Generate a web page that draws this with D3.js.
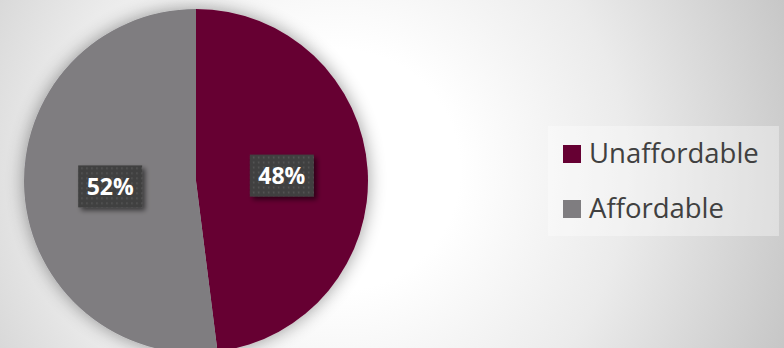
<!DOCTYPE html>
<html>
<head>
<meta charset="utf-8">
<script src="https://cdn.jsdelivr.net/npm/d3@7"></script>
<style>
  html, body { margin: 0; padding: 0; overflow: hidden; }
  svg { display: block; }
</style>
</head>
<body>
<script>
// chart data
var categories = ["Unaffordable", "Affordable"];
var values = [48, 52];
var labels = ["48%", "52%"];
var colors = ["#660033", "#7f7d80"];

var width = 784, height = 348;
var cx = 196, cy = 181, radius = 172;

var svg = d3.select("body").append("svg")
    .attr("width", width)
    .attr("height", height);

var defs = svg.append("defs");

// background radial gradient
var bg = defs.append("radialGradient")
    .attr("id", "bg")
    .attr("gradientUnits", "userSpaceOnUse")
    .attr("cx", 340).attr("cy", 170).attr("r", 480);
bg.append("stop").attr("offset", "0.25").attr("stop-color", "#ffffff");
bg.append("stop").attr("offset", "0.6").attr("stop-color", "#ebebeb");
bg.append("stop").attr("offset", "1").attr("stop-color", "#c6c6c6");

// soft shadow round the pie
var pieShadow = defs.append("filter").attr("id", "pieShadow")
    .attr("x", "-20%").attr("y", "-20%").attr("width", "140%").attr("height", "140%");
pieShadow.append("feGaussianBlur").attr("in", "SourceAlpha").attr("stdDeviation", 9).attr("result", "blur");
pieShadow.append("feComponentTransfer").attr("in", "blur").attr("result", "soft")
  .append("feFuncA").attr("type", "linear").attr("slope", 0.4);
var m1 = pieShadow.append("feMerge");
m1.append("feMergeNode").attr("in", "soft");
m1.append("feMergeNode").attr("in", "SourceGraphic");

// shadow under the label boxes
var boxShadow = defs.append("filter").attr("id", "boxShadow")
    .attr("x", "-30%").attr("y", "-30%").attr("width", "160%").attr("height", "160%");
boxShadow.append("feGaussianBlur").attr("in", "SourceAlpha").attr("stdDeviation", 2.5).attr("result", "blur");
boxShadow.append("feOffset").attr("in", "blur").attr("dx", 3).attr("dy", 3).attr("result", "off");
boxShadow.append("feComponentTransfer").attr("in", "off").attr("result", "soft")
  .append("feFuncA").attr("type", "linear").attr("slope", 0.55);
var m2 = boxShadow.append("feMerge");
m2.append("feMergeNode").attr("in", "soft");
m2.append("feMergeNode").attr("in", "SourceGraphic");

// dotted fill for label boxes
var dots = defs.append("pattern").attr("id", "dots")
    .attr("patternUnits", "userSpaceOnUse")
    .attr("width", 5).attr("height", 5);
dots.append("rect").attr("width", 5).attr("height", 5).attr("fill", "#404040");
dots.append("rect").attr("x", 1).attr("y", 1).attr("width", 1.6).attr("height", 1.6).attr("fill", "#575757");

svg.append("rect")
    .attr("width", width).attr("height", height)
    .attr("fill", "url(#bg)");

var data = categories.map(function(c, i) {
    return {name: c, value: values[i], label: labels[i], color: colors[i]};
});

var pie = d3.pie().sort(null).value(function(d) { return d.value; });
var arc = d3.arc().innerRadius(0).outerRadius(radius);
var arcs = pie(data);

var g = svg.append("g").attr("transform", "translate(" + cx + "," + cy + ")");

g.append("g").attr("filter", "url(#pieShadow)")
  .selectAll("path")
    .data(arcs)
  .enter().append("path")
    .attr("d", arc)
    .attr("fill", function(d) { return d.data.color; });

// data labels
var lab = g.selectAll(".lab")
    .data(arcs)
  .enter().append("g")
    .attr("class", "lab")
    .attr("transform", function(d) { return "translate(" + arc.centroid(d) + ")"; });

lab.append("rect")
    .attr("x", -32).attr("y", -21)
    .attr("width", 64).attr("height", 42)
    .attr("fill", "url(#dots)")
    .attr("filter", "url(#boxShadow)");

lab.append("text")
    .attr("text-anchor", "middle")
    .attr("dy", "0.36em")
    .style("font-family", "'Open Sans', sans-serif")
    .style("font-weight", "bold")
    .style("font-size", "23px")
    .attr("fill", "#ffffff")
    .text(function(d) { return d.data.label; });

// legend
var legend = svg.append("g");
legend.append("rect")
    .attr("x", 548).attr("y", 126)
    .attr("width", 231).attr("height", 110)
    .attr("fill", "#ffffff").attr("fill-opacity", 0.35);

var item = legend.selectAll(".item")
    .data(data)
  .enter().append("g")
    .attr("class", "item")
    .attr("transform", function(d, i) { return "translate(563," + (145 + i * 55) + ")"; });

item.append("rect")
    .attr("width", 18).attr("height", 18)
    .attr("fill", function(d) { return d.color; });

item.append("text")
    .attr("x", 26).attr("y", 18)
    .style("font-family", "'Open Sans', sans-serif")
    .style("font-size", "27.5px")
    .attr("fill", "#404040")
    .text(function(d) { return d.name; });
</script>
</body>
</html>
